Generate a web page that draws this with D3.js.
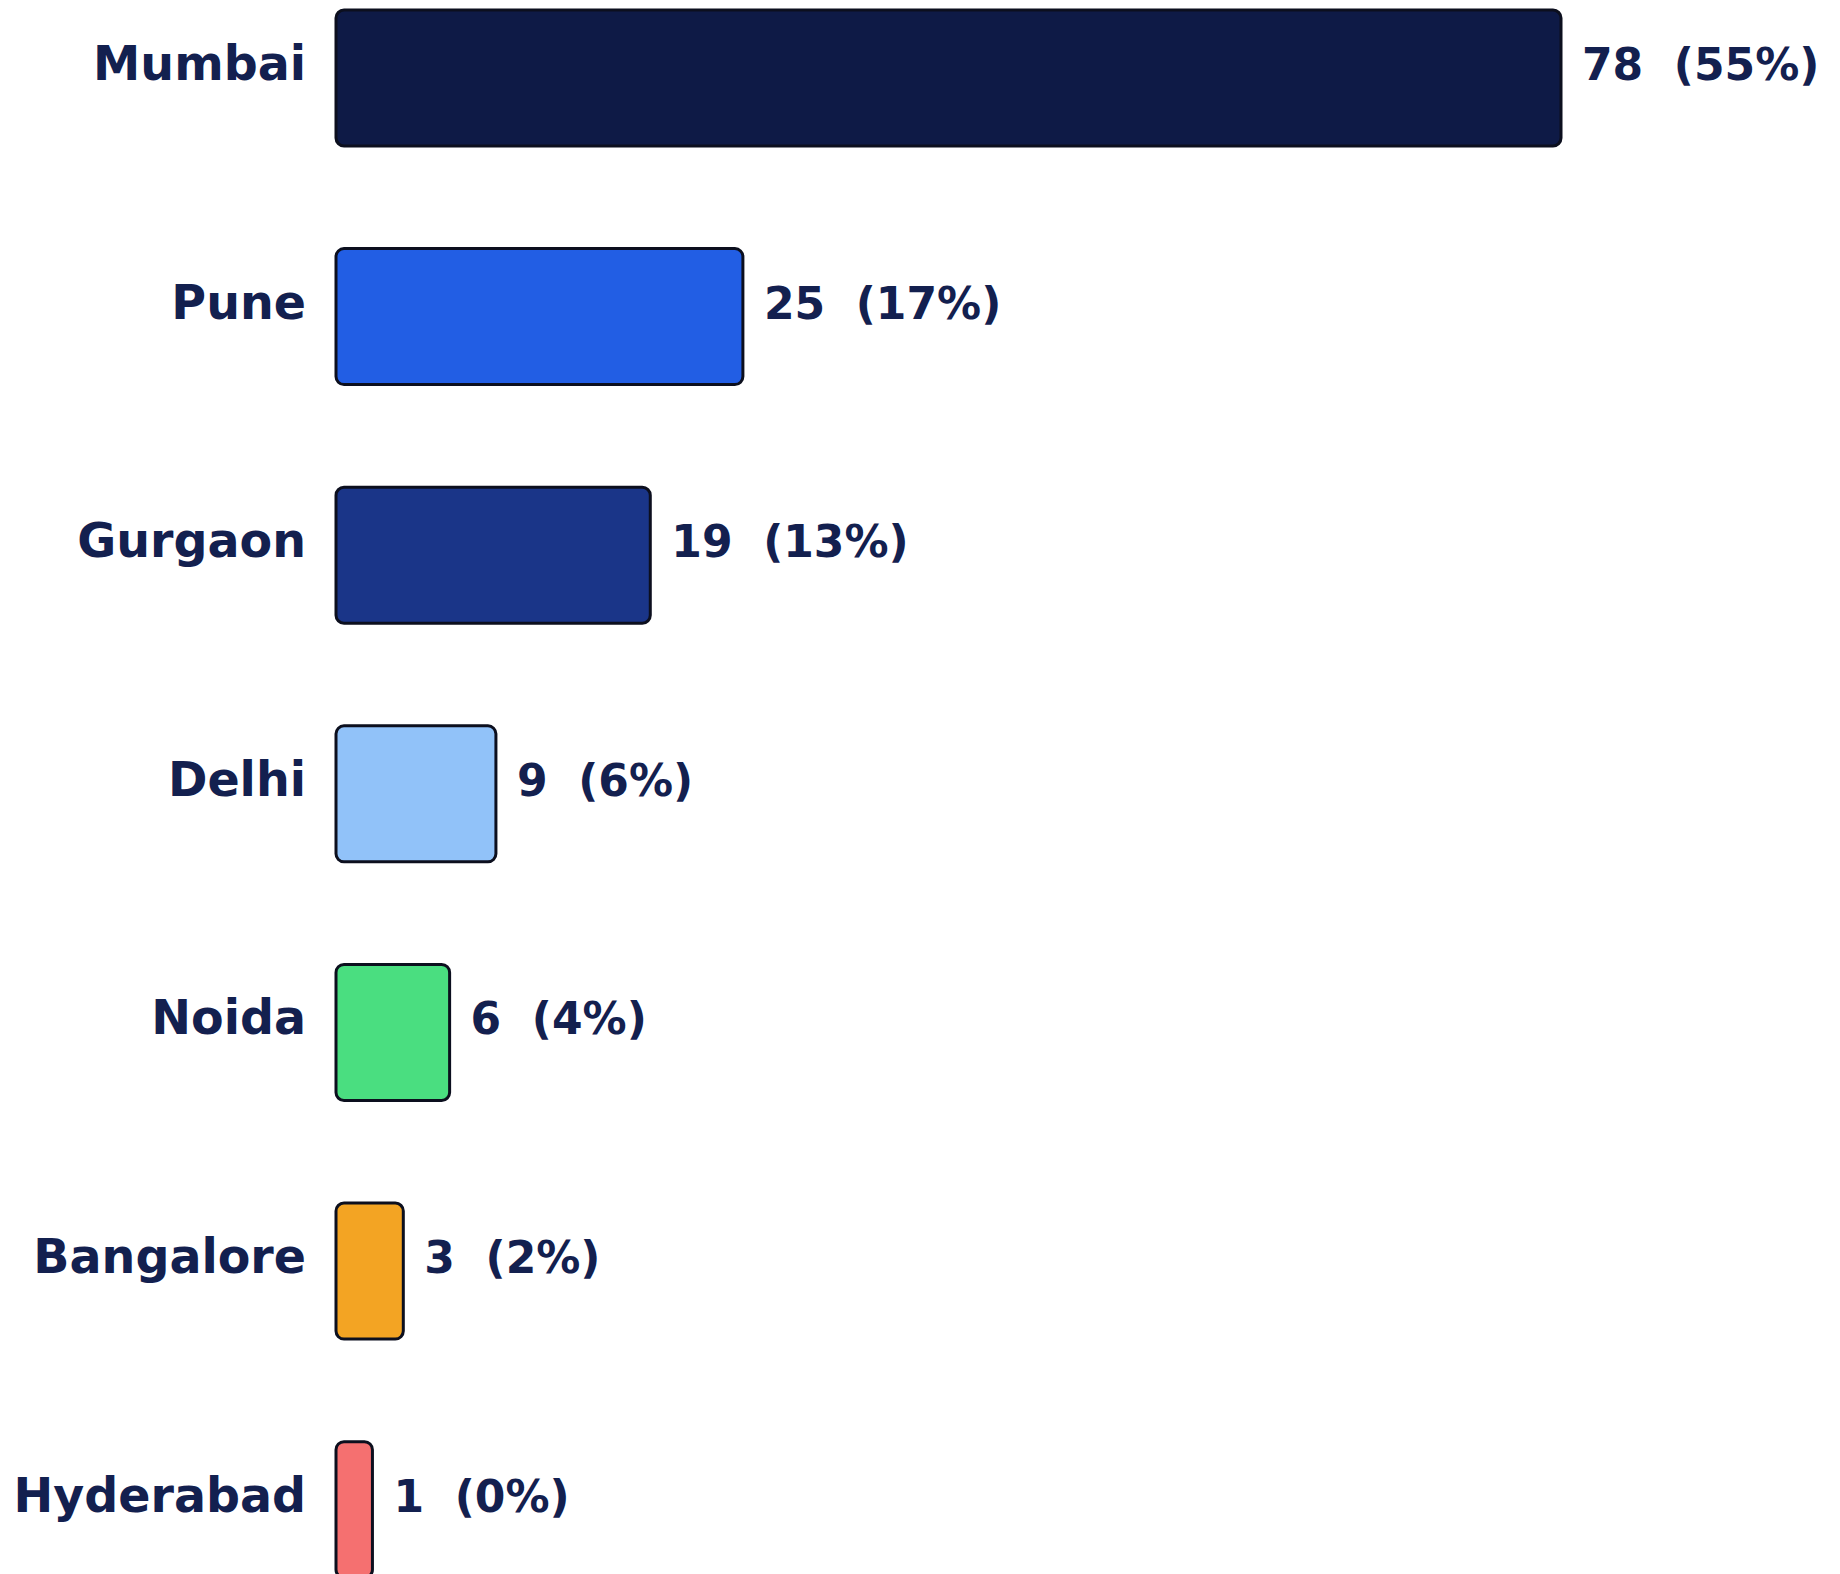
<!DOCTYPE html>
<html>
<head>
<meta charset="utf-8">
<script src="https://cdn.jsdelivr.net/npm/d3@7"></script>
<style>
  html, body { margin: 0; padding: 0; background: #ffffff; }
  svg { display: block; }
</style>
</head>
<body>
<svg id="chart" width="1840" height="1574"></svg>
<script>
const categories = ["Mumbai", "Pune", "Gurgaon", "Delhi", "Noida", "Bangalore", "Hyderabad"];
const values = [78, 25, 19, 9, 6, 3, 1];
const percentLabels = ["55%", "17%", "13%", "6%", "4%", "2%", "0%"];
const barColors = ["#0e1a46", "#225ee4", "#1a3588", "#91c2f9", "#4ade80", "#f3a423", "#f57070"];

const W = 1840, H = 1574;
const svg = d3.select("#chart");
const pad = 10.5;
const textColor = "#13204f";

const x = d3.scaleLinear().domain([0, 78]).range([346.5, 1550.5]);
const y = d3.scaleBand().domain(categories).range([-41.3, 1629]).paddingInner(0.43).paddingOuter(0.215);

const rowCenter = c => y(c) + y.bandwidth() / 2;
const barH = 136 - 2 * pad;

const g = svg.append("g");

g.selectAll("rect.bar")
  .data(categories)
  .join("rect")
  .attr("class", "bar")
  .attr("x", x(0) - pad)
  .attr("y", c => rowCenter(c) - barH / 2 - pad)
  .attr("width", (c, i) => x(values[i]) - x(0) + 2 * pad)
  .attr("height", barH + 2 * pad)
  .attr("rx", 8).attr("ry", 8)
  .attr("fill", (c, i) => barColors[i])
  .attr("stroke", "#0c0f1e")
  .attr("stroke-width", 3);

g.selectAll("text.cat")
  .data(categories)
  .join("text")
  .attr("class", "cat")
  .attr("x", 306)
  .attr("y", c => rowCenter(c) + 2)
  .attr("text-anchor", "end")
  .attr("font-family", "DejaVu Sans")
  .attr("font-weight", "bold")
  .attr("font-size", 47.5)
  .attr("fill", textColor)
  .text(c => c);

g.selectAll("text.val")
  .data(categories)
  .join("text")
  .attr("class", "val")
  .attr("x", (c, i) => x(values[i]) + pad + 21)
  .attr("y", c => rowCenter(c) + 2)
  .attr("text-anchor", "start")
  .attr("font-family", "DejaVu Sans")
  .attr("font-weight", "bold")
  .attr("font-size", 44)
  .attr("fill", textColor)
  .attr("xml:space", "preserve")
  .style("white-space", "pre")
  .text((c, i) => values[i] + "  (" + percentLabels[i] + ")");
</script>
</body>
</html>
